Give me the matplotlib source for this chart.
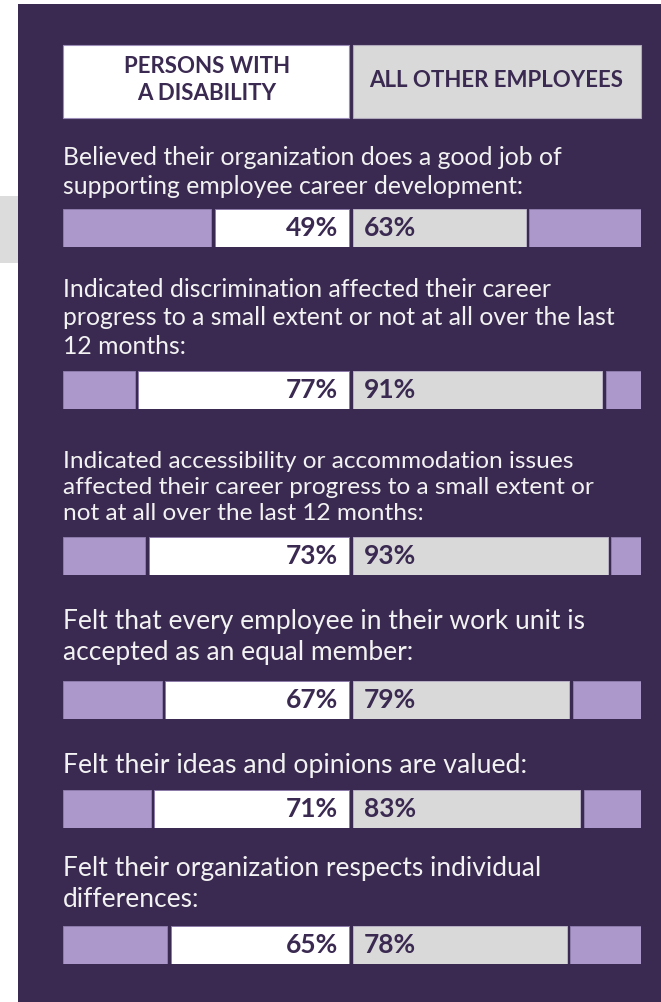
import matplotlib.pyplot as plt
from matplotlib.patches import Rectangle

# survey results, % agreeing
questions = [
    "Believed their organization does a good job of\nsupporting employee career development:",
    "Indicated discrimination affected their career\nprogress to a small extent or not at all over the last\n12 months:",
    "Indicated accessibility or accommodation issues\naffected their career progress to a small extent or\nnot at all over the last 12 months:",
    "Felt that every employee in their work unit is\naccepted as an equal member:",
    "Felt their ideas and opinions are valued:",
    "Felt their organization respects individual\ndifferences:",
]
disability = [49, 77, 73, 67, 71, 65]
others = [63, 91, 93, 79, 83, 78]
headers = ["PERSONS WITH\nA DISABILITY", "ALL OTHER EMPLOYEES"]

PANEL = "#3a2950"
PURPLE = "#ad98cc"
GREY = "#d9d9d9"
INK = "#3a2950"
FONT = "Lato"

W, H = 661, 1002
fig = plt.figure(figsize=(W / 100, H / 100), dpi=100)
fig.patch.set_facecolor("white")

# pixel-space canvas for the panel, header and question text
bg = fig.add_axes([0, 0, 1, 1])
bg.set_xlim(0, W)
bg.set_ylim(H, 0)
bg.axis("off")
bg.add_patch(Rectangle((0, 196), 18, 67, color="#dcdcdc", lw=0))
bg.add_patch(Rectangle((18, 4), W - 18, H - 4, color=PANEL, lw=0))

x_left, x_mid, x_right = 63, 351, 641
bg.add_patch(Rectangle((x_left, 45), x_mid - 2 - x_left, 73, facecolor="white",
                       edgecolor="#9c8cb8", lw=0.8))
bg.add_patch(Rectangle((x_mid + 2, 45), x_right - x_mid - 2, 73, facecolor=GREY,
                       edgecolor="#b0a8bc", lw=0.8))
bg.text((x_left + x_mid) / 2, 80, headers[0], ha="center", va="center",
        fontsize=16, fontweight="bold", color=INK, family=FONT, linespacing=1.3)
bg.text((x_mid + x_right) / 2, 80, headers[1], ha="center", va="center",
        fontsize=16, fontweight="bold", color=INK, family=FONT)

bar_tops = [209, 371, 537, 681, 790, 926]
# baseline of the last line of each question
text_baselines = [194, 354, 520, 660, 773, 907]
bar_h = 38
q_sizes = [17.8, 17.8, 17.6, 19, 19.2, 19]
px_per_pct = 2.74
half_gap = 2 / px_per_pct
seg_gap = 3.5 / px_per_pct

for i, q in enumerate(questions):
    top = bar_tops[i]
    bg.text(x_left, text_baselines[i], q, ha="left", va="baseline",
            fontsize=q_sizes[i], color="#f2f2f2", family=FONT, linespacing=1.3)

    ax = fig.add_axes([x_left / W, 1 - (top + bar_h) / H, (x_right - x_left) / W, bar_h / H])
    lo = -(x_mid - x_left) / px_per_pct
    hi = (x_right - x_mid) / px_per_pct
    ax.set_xlim(lo, hi)
    ax.set_ylim(-0.5, 0.5)
    ax.axis("off")

    d, o = disability[i], others[i]
    edge = dict(edgecolor="#8d7bab", linewidth=0.7)
    ax.barh(0, d, left=-half_gap - d, height=1, color="white", **edge)
    ax.barh(0, (-half_gap - d - seg_gap) - lo, left=lo, height=1, color=PURPLE, **edge)
    ax.barh(0, o, left=half_gap, height=1, color=GREY, edgecolor="#b8b0c4", linewidth=0.7)
    ax.barh(0, hi - (half_gap + o + seg_gap), left=half_gap + o + seg_gap, height=1,
            color=PURPLE, **edge)

    ax.text(-half_gap - 4, 0, f"{d}%", ha="right", va="center", fontsize=19,
            fontweight="bold", color=INK, family=FONT)
    ax.text(half_gap + 4, 0, f"{o}%", ha="left", va="center", fontsize=19,
            fontweight="bold", color=INK, family=FONT)

fig.savefig("out.png", dpi=100)
